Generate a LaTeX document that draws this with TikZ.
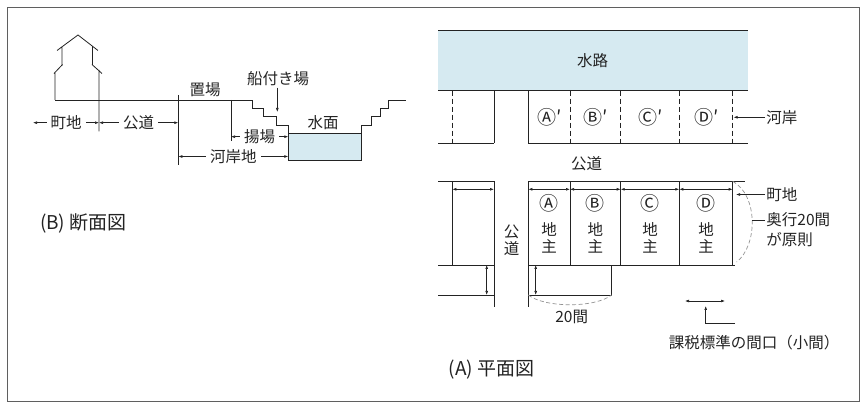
\documentclass[tikz,border=0pt]{standalone}
\usepackage{fontspec}
\setmainfont{Noto Sans CJK JP}
\definecolor{inkGray}{RGB}{35, 35, 35}
\definecolor{frameGray}{RGB}{95, 95, 95}
\definecolor{waterBlue}{RGB}{214, 234, 241}
\usepackage{tikz}
\usetikzlibrary{arrows.meta}

\begin{document}
\begin{tikzpicture}[
    x=1pt, y=-1pt,
    line width=0.8pt, color=inkGray,
    tag/.style={inner sep=1pt, font=\fontsize{15.5}{15.5}\selectfont},
    dimtag/.style={tag, fill=white, inner xsep=4pt},
    stack/.style={tag, align=center, font=\fontsize{15.5}{16.7}\selectfont},
    caption/.style={inner sep=0pt, font=\fontsize{19}{19}\selectfont},
    lot/.style={inner sep=0pt, font=\fontsize{19}{19}\selectfont},
    dim/.style={{Latex[length=4pt,width=2.8pt]}-{Latex[length=4pt,width=2.8pt]}, line width=0.6pt},
    pointer/.style={-{Latex[length=4pt,width=2.8pt]}, line width=0.6pt},
    lotedge/.style={dash pattern=on 5pt off 3pt},
    depth/.style={draw=gray!85, line width=0.7pt, dash pattern=on 4pt off 2.5pt},
  ]
  \useasboundingbox (0,0) rectangle (868,403);
  \draw[frameGray, line width=0.9pt] (7.5,7) rectangle (859.5,401.5);

  % (B) cross-section
  \draw (55,100) -- (55,72) (54,73.5) -- (62.5,64.5) (62,66) -- (62,47)
        (57,50.5) -- (78,35) -- (98,50.5)
        (92.5,47) -- (92.5,65) (92,64.5) -- (102,73.5)
        (99,70) -- (99,131.5);
  \draw (55,100) -- (252.7,100) -- (252.7,108.3) -- (263.3,108.3) -- (263.3,116)
        -- (276,116) -- (276,125) -- (288.3,125) -- (288.3,133.3);
  \draw[fill=waterBlue] (288.3,133.3) rectangle (361.7,160.5);
  \draw (361.7,133.3) -- (361.7,125) -- (371.7,125) -- (371.7,116.5) -- (380,116.5)
        -- (380,108.3) -- (388.3,108.3) -- (388.3,100) -- (406,100);
  \draw (178.3,95) -- (178.3,165) (231,100) -- (231,141.5);

  \node[tag] (B1) at (205,90) {置場};
  \node[tag] (B2) at (278,79) {船付き場};
  \node[tag] (B3) at (323,122.5) {水面};
  \coordinate (S1) at (277.3,112);
  \draw[pointer] (S1 |- B2.south) -- (S1);
  \draw[dim] (33,122.7) -- node[dimtag] (B4) {町地} (99,122.7);
  \draw[dim] (99,122.7) -- node[dimtag] (B5) {公道} (178.3,122.7);
  \draw[dim] (231,136.7) -- node[dimtag] (B6) {揚場} (288.3,136.7);
  \draw[dim] (178.3,156.5) -- node[dimtag] (B7) {河岸地} (288.3,156.5);
  \node[caption] (B0) at (83.3,223.3) {(B) 断面図};

  % (A) plan
  \fill[waterBlue] (438.3,30) rectangle (748.3,90.7);
  \draw (438.3,30) -- (748.3,30) (438.3,90.7) -- (748.3,90.7);
  \node[tag] (A1) at (592.7,60.7) {水路};

  \draw (438.3,143.3) -- (494,143.3) (528.3,143.3) -- (748.3,143.3);
  \draw (494,90.7) -- (494,143.3) (528.3,90.7) -- (528.3,143.3);
  \draw[lotedge] (452.7,90.7) -- (452.7,143.3) (570,90.7) -- (570,143.3)
        (620.7,90.7) -- (620.7,143.3) (679.3,90.7) -- (679.3,143.3)
        (732.7,90.7) -- (732.7,143.3);
  \node[lot] (A2) at (550,117.3) {Ⓐ′};
  \node[lot] (A3) at (596,117.3) {Ⓑ′};
  \node[lot] (A4) at (650.5,117.3) {Ⓒ′};
  \node[lot] (A5) at (706.5,117.3) {Ⓓ′};
  \coordinate (K1) at (733.5,117.3);
  \node[tag, anchor=west] (A6) at (765,117.3) {河岸};
  \draw[pointer] (A6.west) -- (K1);
  \node[tag] (A7) at (586.7,163.3) {公道};

  \draw (438.3,181.3) -- (494,181.3) (528.3,181.3) -- (745,181.3);
  \draw (438.3,265) -- (494,265) (528.3,265) -- (735,265);
  \draw (438.3,295) -- (494,295) (528.3,295) -- (611.7,295) -- (611.7,265);
  \draw (452.3,181.3) -- (452.3,265) (494,181.3) -- (494,306.7)
        (528.3,181.3) -- (528.3,306.7) (570,181.3) -- (570,265)
        (620.7,181.3) -- (620.7,265) (679.3,181.3) -- (679.3,265)
        (732.7,181.3) -- (732.7,265);
  \draw[dim] (452.3,189.3) -- (494,189.3);
  \draw[dim] (528.3,189.3) -- (570,189.3);
  \draw[dim] (570,189.3) -- (620.7,189.3);
  \draw[dim] (620.7,189.3) -- (679.3,189.3);
  \draw[dim] (679.3,189.3) -- (732.7,189.3);
  \draw[dim] (486.7,265) -- (486.7,295);
  \draw[dim] (535.7,265) -- (535.7,295);
  \draw[depth] (528.3,295) .. controls (545,308) and (595,308) .. (611.7,295);
  \draw[depth] (732.7,181.3) .. controls (758,195) and (758,245) .. (736.7,262);
  \node[tag] (A8) at (571.7,316.7) {20間};

  \node[stack] (A9) at (511.7,240) {公\\道};
  \node[lot] (A10) at (549.2,203.3) {Ⓐ};
  \node[lot] (A11) at (595.3,203.3) {Ⓑ};
  \node[lot] (A12) at (650,203.3) {Ⓒ};
  \node[lot] (A13) at (706,203.3) {Ⓓ};
  \node[stack] (A14) at (549.2,237.7) {地\\主};
  \node[stack] (A15) at (595.3,237.7) {地\\主};
  \node[stack] (A16) at (650,237.7) {地\\主};
  \node[stack] (A17) at (706,237.7) {地\\主};

  \coordinate (K2) at (736,194.5);
  \node[tag, anchor=west] (A18) at (765,194.5) {町地};
  \draw[pointer] (A18.west) -- (K2);
  \coordinate (K3) at (751.5,220);
  \node[tag, anchor=west] (A19) at (765,220) {奥行20間};
  \node[tag, anchor=west] (A20) at (765,240) {が原則};
  \draw[line width=0.6pt] (A19.west) -- (K3);

  \draw[dim] (685,301) -- (725,301);
  \coordinate (K4) at (705.7,306);
  \coordinate (K5) at (735,323.3);
  \draw[pointer] (K5) -- (K4 |- K5) -- (K4);
  \node[tag] (A21) at (754,342.7) {課税標準の間口（小間）};
  \node[caption] (A0) at (491.7,370) {(A) 平面図};
\end{tikzpicture}
\end{document}
